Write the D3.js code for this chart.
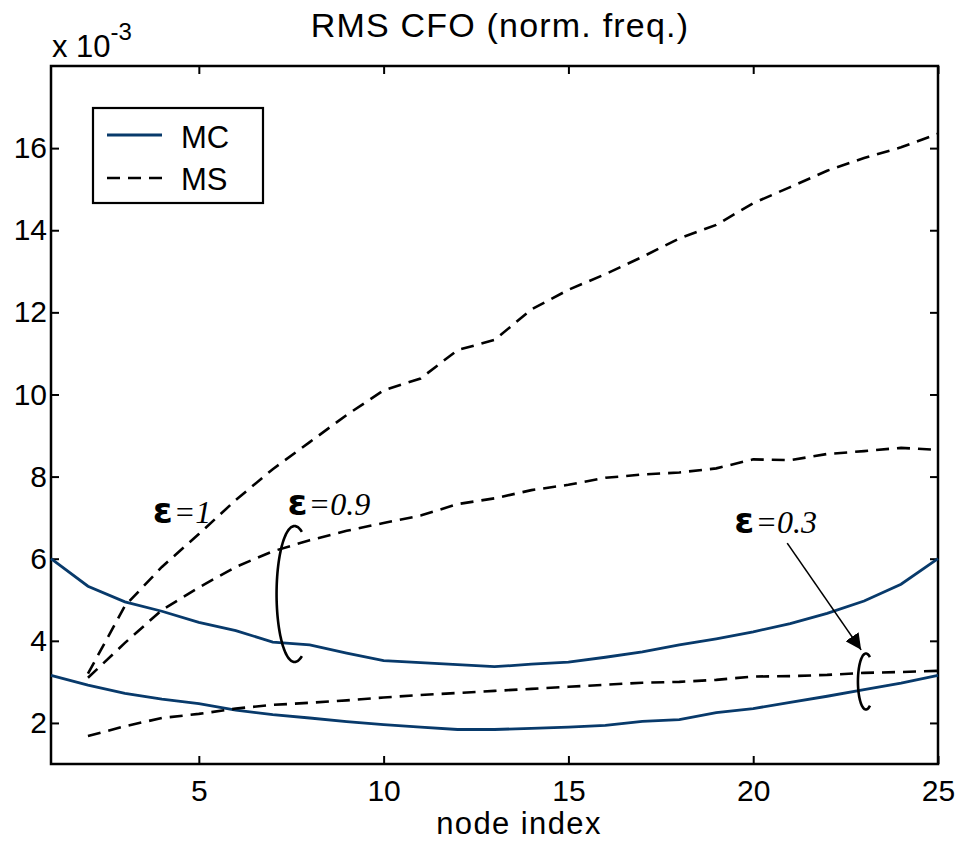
<!DOCTYPE html>
<html>
<head>
<meta charset="utf-8">
<script src="https://cdn.jsdelivr.net/npm/d3@7"></script>
<style>
  body { margin: 0; background: #fff; }
  svg { display: block; }
  .axis text { font-family: "Liberation Sans", Arial, sans-serif; font-size: 30px; fill: #000; }
  .axis line { stroke: #000; stroke-width: 2; }
</style>
</head>
<body>
<svg id="chart" width="963" height="842"></svg>
<script>
// ---------- data (values in units of 1e-3) ----------
const nodes = d3.range(1, 26);            // node index 1..25
const nodesMS = d3.range(2, 26);          // MS curves start at node 2

const mcUpper = [6.0, 5.33, 4.95, 4.72, 4.45, 4.25, 3.97, 3.9, 3.7, 3.52, 3.47, 3.42, 3.37,
  3.43, 3.48, 3.6, 3.73, 3.9, 4.05, 4.22, 4.42, 4.67, 4.97, 5.38, 6.0];
const mcLower = [3.16, 2.92, 2.72, 2.58, 2.47, 2.31, 2.2, 2.12, 2.03, 1.96, 1.9, 1.84, 1.84,
  1.87, 1.9, 1.94, 2.04, 2.08, 2.25, 2.35, 2.5, 2.65, 2.81, 2.97, 3.16];

const msEps1 = [3.2, 4.85, 5.8, 6.6, 7.43, 8.18, 8.84, 9.5, 10.1, 10.39, 11.08, 11.33, 12.07,
  12.55, 12.93, 13.35, 13.8, 14.13, 14.66, 15.05, 15.45, 15.76, 16.02, 16.35];
const msEps09 = [3.1, 3.95, 4.75, 5.3, 5.8, 6.18, 6.45, 6.68, 6.87, 7.05, 7.33, 7.47, 7.67,
  7.8, 7.97, 8.05, 8.1, 8.2, 8.42, 8.4, 8.55, 8.62, 8.7, 8.65];
const msEps03 = [1.68, 1.92, 2.12, 2.22, 2.35, 2.44, 2.49, 2.55, 2.62, 2.68, 2.73, 2.78, 2.83,
  2.88, 2.93, 2.98, 3.0, 3.05, 3.13, 3.14, 3.17, 3.22, 3.24, 3.27];

const xTicks = [5, 10, 15, 20, 25];
const yTicks = [2, 4, 6, 8, 10, 12, 14, 16];

// annotation anchors in data coordinates
const epsLabels = [
  { text: "=1", x: 3.75, y: 6.87 },
  { text: "=0.9", x: 7.4, y: 7.06 },
  { text: "=0.3", x: 19.49, y: 6.63 }
];
const brackets = [
  { x: 7.59, y: 5.14, rx: 18, ry: 68, a0: 66, a1: 294 },
  { x: 23.05, y: 3.01, rx: 8, ry: 28, a0: 60, a1: 300 }
];
const arrow03 = { x0: 20.92, y0: 6.38, x1: 22.92, y1: 3.78 };

// ---------- layout ----------
const svg = d3.select("#chart");
const plotLeft = 51, plotRight = 938, plotTop = 66, plotBottom = 764;
const blue = "#083a6b";

const x = d3.scaleLinear().domain([1, 25]).range([plotLeft, plotRight]);
const y = d3.scaleLinear().domain([1, 18]).range([plotBottom, plotTop]);

// axes, ticks inward on all four sides
svg.append("g").attr("class", "axis")
  .attr("transform", `translate(0,${plotBottom})`)
  .call(d3.axisBottom(x).tickValues(xTicks).tickSizeInner(-8).tickSizeOuter(0).tickPadding(16))
  .call(g => g.select(".domain").remove());
svg.append("g").attr("class", "axis")
  .attr("transform", `translate(0,${plotTop})`)
  .call(d3.axisTop(x).tickValues(xTicks).tickSizeInner(-8).tickSizeOuter(0).tickFormat(""))
  .call(g => g.select(".domain").remove());
svg.append("g").attr("class", "axis")
  .attr("transform", `translate(${plotLeft},0)`)
  .call(d3.axisLeft(y).tickValues(yTicks).tickSizeInner(-8).tickSizeOuter(0).tickPadding(4))
  .call(g => g.select(".domain").remove());
svg.append("g").attr("class", "axis")
  .attr("transform", `translate(${plotRight},0)`)
  .call(d3.axisRight(y).tickValues(yTicks).tickSizeInner(-8).tickSizeOuter(0).tickFormat(""))
  .call(g => g.select(".domain").remove());

svg.append("rect")
  .attr("x", plotLeft).attr("y", plotTop)
  .attr("width", plotRight - plotLeft).attr("height", plotBottom - plotTop)
  .attr("fill", "none").attr("stroke", "#000").attr("stroke-width", 2.5);

// ---------- curves ----------
const line = d3.line().x(d => x(d[0])).y(d => y(d[1]));

function addCurve(xs, ys, dashed) {
  svg.append("path")
    .datum(xs.map((n, i) => [n, ys[i]]))
    .attr("d", line)
    .attr("fill", "none")
    .attr("stroke", dashed ? "#000" : blue)
    .attr("stroke-width", dashed ? 2.6 : 2.8)
    .attr("stroke-dasharray", dashed ? "13,8" : null);
}

addCurve(nodes, mcUpper, false);
addCurve(nodes, mcLower, false);
addCurve(nodesMS, msEps1, true);
addCurve(nodesMS, msEps09, true);
addCurve(nodesMS, msEps03, true);

// ---------- annotations ----------
brackets.forEach(b => {
  const pts = d3.range(b.a0, b.a1 + 1, 3).map(a => {
    const t = a * Math.PI / 180;
    return [x(b.x) + b.rx * Math.cos(t), y(b.y) + b.ry * Math.sin(t)];
  });
  svg.append("path")
    .attr("d", d3.line().curve(d3.curveBasis)(pts))
    .attr("fill", "none").attr("stroke", "#000").attr("stroke-width", 2.6);
});

svg.append("defs").append("marker")
  .attr("id", "head").attr("viewBox", "0 0 10 10")
  .attr("refX", 10).attr("refY", 5)
  .attr("markerWidth", 16).attr("markerHeight", 16)
  .attr("markerUnits", "userSpaceOnUse")
  .attr("orient", "auto")
  .append("path").attr("d", "M0,0 L10,5 L0,10 Z").attr("fill", "#000");

svg.append("line")
  .attr("x1", x(arrow03.x0)).attr("y1", y(arrow03.y0))
  .attr("x2", x(arrow03.x1)).attr("y2", y(arrow03.y1))
  .attr("stroke", "#000").attr("stroke-width", 1.6)
  .attr("marker-end", "url(#head)");

epsLabels.forEach(l => {
  const t = svg.append("text")
    .attr("x", x(l.x)).attr("y", y(l.y))
    .attr("font-size", 32);
  t.append("tspan")
    .attr("font-family", "'DejaVu Sans', sans-serif")
    .attr("font-weight", "bold")
    .attr("font-size", 36)
    .text("ε");
  t.append("tspan")
    .attr("font-family", "'Liberation Serif', 'Times New Roman', serif")
    .attr("font-style", "italic")
    .attr("dx", 1)
    .text(l.text);
});

// ---------- legend ----------
const legend = svg.append("g");
legend.append("rect")
  .attr("x", 93).attr("y", 108).attr("width", 170).attr("height", 95)
  .attr("fill", "#fff").attr("stroke", "#000").attr("stroke-width", 2.2);
legend.append("line")
  .attr("x1", 107).attr("x2", 162).attr("y1", 135).attr("y2", 135)
  .attr("stroke", blue).attr("stroke-width", 2.8);
legend.append("line")
  .attr("x1", 107).attr("x2", 162).attr("y1", 178).attr("y2", 178)
  .attr("stroke", "#000").attr("stroke-width", 2.6).attr("stroke-dasharray", "13,8");
[["MC", 148], ["MS", 190]].forEach(([name, by]) => {
  legend.append("text")
    .attr("x", 181).attr("y", by)
    .attr("font-family", "'Liberation Sans', Arial, sans-serif")
    .attr("font-size", 31)
    .text(name);
});

// ---------- titles ----------
svg.append("text")
  .attr("x", 500).attr("y", 37)
  .attr("text-anchor", "middle")
  .attr("font-family", "'Liberation Sans', Arial, sans-serif")
  .attr("font-size", 34).attr("letter-spacing", 1.2)
  .text("RMS CFO (norm. freq.)");

svg.append("text")
  .attr("x", 519).attr("y", 834)
  .attr("text-anchor", "middle")
  .attr("font-family", "'Liberation Sans', Arial, sans-serif")
  .attr("font-size", 31).attr("letter-spacing", 1.4)
  .text("node index");

const expo = svg.append("text")
  .attr("x", 52).attr("y", 57)
  .attr("font-family", "'Liberation Sans', Arial, sans-serif")
  .attr("font-size", 31);
expo.append("tspan").text("x 10");
expo.append("tspan").attr("dy", -17).attr("font-size", 24).text("-3");
</script>
</body>
</html>
